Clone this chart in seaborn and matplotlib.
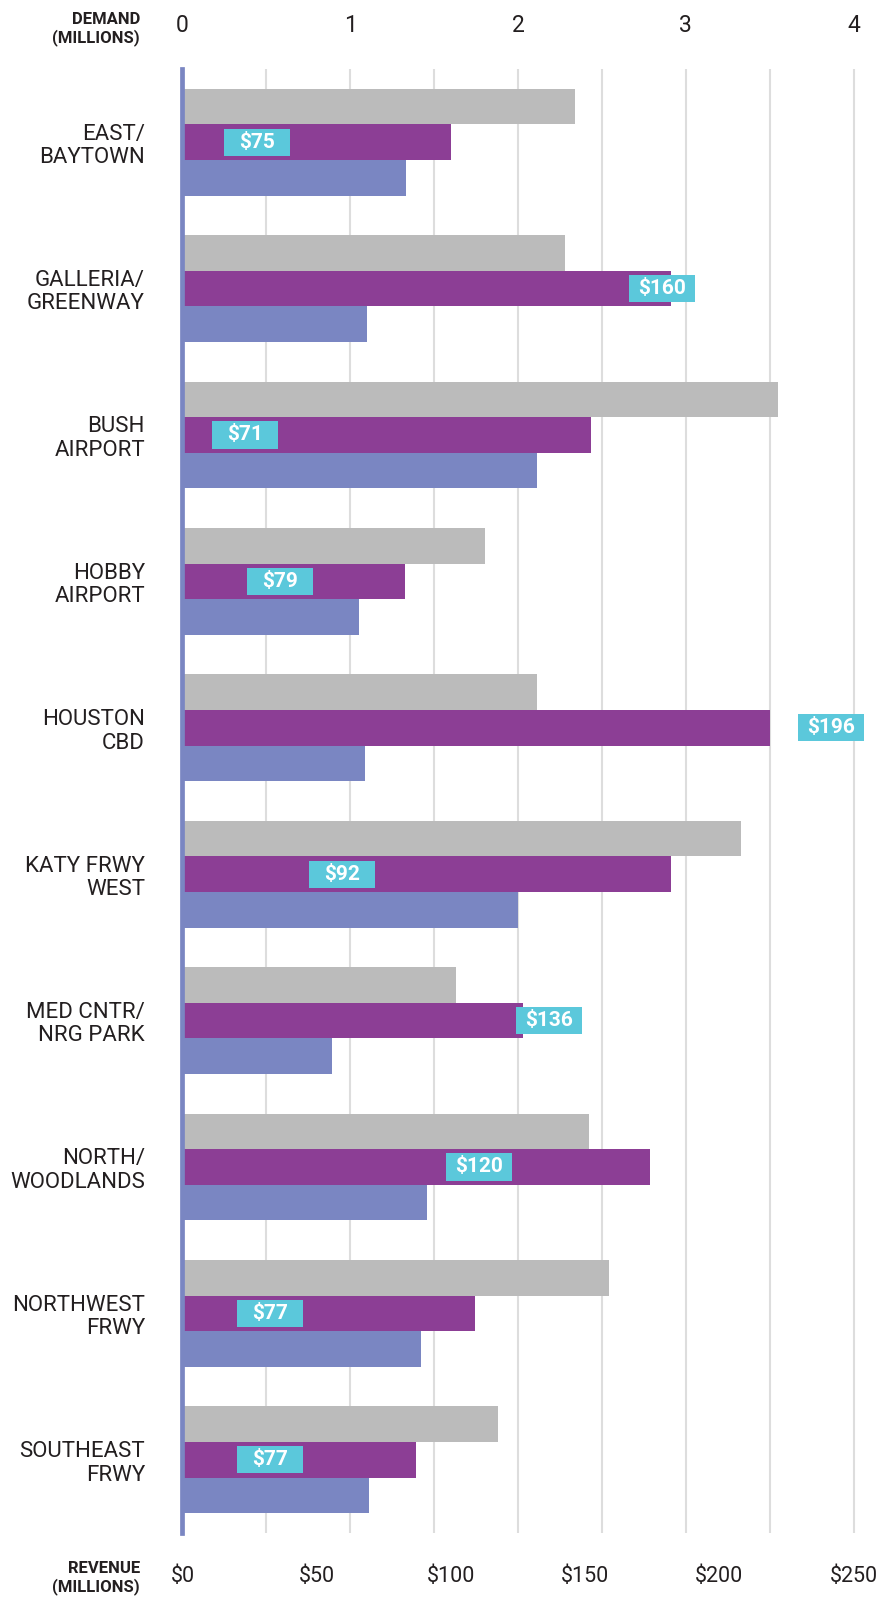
import matplotlib
matplotlib.use("Agg")
import matplotlib.pyplot as plt
from matplotlib.patches import Rectangle
import numpy as np
import pandas as pd
import seaborn as sns

plt.rcParams["font.family"] = ["Roboto", "DejaVu Sans"]

# %% data
areas = [
    "EAST/\nBAYTOWN",
    "GALLERIA/\nGREENWAY",
    "BUSH\nAIRPORT",
    "HOBBY\nAIRPORT",
    "HOUSTON\nCBD",
    "KATY FRWY\nWEST",
    "MED CNTR/\nNRG PARK",
    "NORTH/\nWOODLANDS",
    "NORTHWEST\nFRWY",
    "SOUTHEAST\nFRWY",
]
demand_gray = [2.34, 2.28, 3.55, 1.80, 2.11, 3.33, 1.63, 2.42, 2.54, 1.88]   # millions
demand_blue = [1.33, 1.10, 2.11, 1.05, 1.09, 2.00, 0.89, 1.46, 1.42, 1.11]   # millions
revenue = [100, 182, 152, 83, 219, 182, 127, 174, 109, 87]                  # $ millions
tag_values = [75, 160, 71, 79, 196, 92, 136, 120, 77, 77]

# where the cyan tags sit on the revenue axis (layout only)
tag_x = [27.7, 178.6, 23.2, 36.4, 241.6, 59.6, 136.5, 110.4, 32.6, 32.6]

demand_ticks = [0, 1, 2, 3, 4]
revenue_ticks = [0, 50, 100, 150, 200, 250]

GRAY, PURPLE, BLUE, CYAN = "#BBBBBB", "#8C3E95", "#7A86C2", "#5BC8DB"
INK = "#231F20"
palette = {"demand_a": GRAY, "revenue": PURPLE, "demand_b": BLUE}
order = ["demand_a", "revenue", "demand_b"]

DEMAND_MAX = 4.05
REV_PER_DEMAND = 250 / 4

demand_df = pd.DataFrame({
    "area": areas * 2,
    "value": demand_gray + demand_blue,
    "series": ["demand_a"] * len(areas) + ["demand_b"] * len(areas),
})
revenue_df = pd.DataFrame({"area": areas, "value": revenue, "series": "revenue"})

# %% figure
fig = plt.figure(figsize=(8.81, 15.97), dpi=100)
ax = fig.add_axes([0.2071, 0.0401, 0.7714, 0.9167])
ax2 = ax.twiny()

bar_kw = dict(y="area", x="value", hue="series", hue_order=order, palette=palette,
              order=areas, orient="h", width=0.73, dodge=True, saturation=1,
              errorbar=None, linewidth=0, legend=False)
sns.barplot(data=demand_df, ax=ax, **bar_kw)
sns.barplot(data=revenue_df, ax=ax2, **bar_kw)

ax.set_xlim(0, DEMAND_MAX)
ax2.set_xlim(0, DEMAND_MAX * REV_PER_DEMAND)
ax.set_ylim(len(areas) - 0.5, -0.5)

# demand axis on top, gridlines every 0.5
ax.xaxis.tick_top()
ax.set_xticks(demand_ticks)
ax.set_xticklabels([str(t) for t in demand_ticks])
ax.set_xticks(np.arange(0.5, 4.01, 1), minor=True)
ax.grid(axis="x", which="both", color="#DDDDDD", linewidth=1.5)
ax.set_axisbelow(True)
ax.tick_params(axis="x", which="both", length=0, pad=23, labelsize=16.5, labelcolor=INK)
ax.tick_params(axis="y", length=0, pad=27, labelsize=16, labelcolor=INK)
for lab in ax.get_yticklabels():
    lab.set_linespacing(1.15)

# revenue axis on bottom
ax2.xaxis.tick_bottom()
ax2.set_xticks(revenue_ticks)
ax2.set_xticklabels([f"${t}" for t in revenue_ticks])
ax2.tick_params(axis="x", length=0, pad=24, labelsize=15.5, labelcolor=INK)

for a in (ax, ax2):
    a.set_xlabel("")
    a.set_ylabel("")
    for s in a.spines.values():
        s.set_visible(False)
# blue baseline drawn on the top axes so it sits over every bar
ax2.spines["left"].set_visible(True)
ax2.spines["left"].set_color(BLUE)
ax2.spines["left"].set_linewidth(3.4)

# cyan value tags on the purple bars
box_w = 24.6
box_h = 0.185
for i, (x, v) in enumerate(zip(tag_x, tag_values)):
    ax2.add_patch(Rectangle((x - box_w / 2, i - box_h / 2), box_w, box_h,
                            facecolor=CYAN, edgecolor="none", zorder=5, clip_on=False))
    ax2.text(x, i, f"${v}", ha="center", va="center", color="white",
             fontsize=15, fontweight="bold", zorder=6, clip_on=False)

fig.text(140 / 881, 1 - 29 / 1597, "DEMAND\n(MILLIONS)", ha="right", va="center",
         fontsize=12, fontweight="bold", color=INK, linespacing=1.2)
fig.text(140 / 881, 1 - 1578 / 1597, "REVENUE\n(MILLIONS)", ha="right", va="center",
         fontsize=12, fontweight="bold", color=INK, linespacing=1.2)

fig.savefig("out.png", dpi=100)
